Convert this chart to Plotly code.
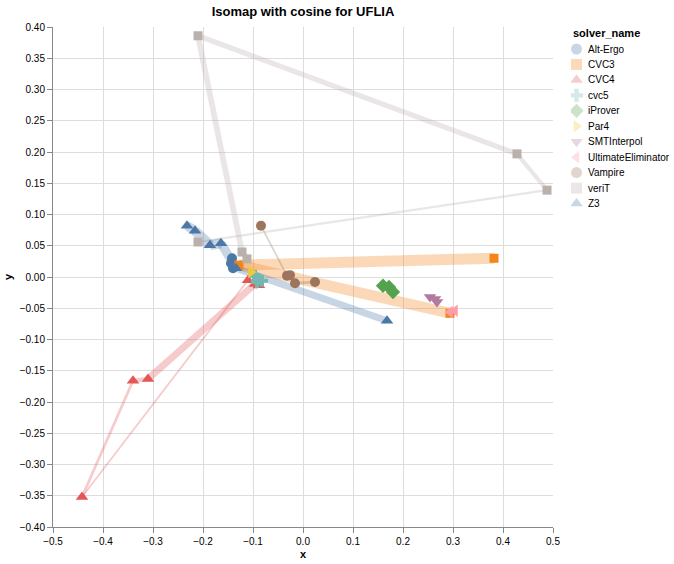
import plotly.graph_objects as go

# solver order and colours (vega tableau10, wraps for Z3)
SOLVERS = ['Alt-Ergo', 'CVC3', 'CVC4', 'cvc5', 'iProver', 'Par4', 'SMTInterpol',
           'UltimateEliminator', 'Vampire', 'veriT', 'Z3']

ALT_ERGO_X = [-0.142, -0.144, -0.140]
ALT_ERGO_Y = [0.030, 0.022, 0.014]
ALT_ERGO_W = [3, 3, 3]

CVC3_X = [0.294, -0.128, 0.382]
CVC3_Y = [-0.058, 0.019, 0.030]
CVC3_W = [10, 12, 10]

CVC4_X = [-0.110, -0.442, -0.340, -0.310, -0.096, -0.088]
CVC4_Y = [-0.005, -0.352, -0.166, -0.163, -0.011, -0.013]
CVC4_W = [1.5, 2, 3.5, 5, 9, 9]

CVC5_X = [-0.096, -0.090, -0.082, -0.092]
CVC5_Y = [0.002, -0.003, -0.006, -0.008]
CVC5_W = [3, 3, 3, 3]

IPROVER_X = [0.160, 0.172, 0.180]
IPROVER_Y = [-0.014, -0.016, -0.024]
IPROVER_W = [3, 3, 3]

PAR4_X = [-0.104]
PAR4_Y = [0.008]
PAR4_W = [3]

SMTINTERPOL_X = [0.254, 0.264, 0.268]
SMTINTERPOL_Y = [-0.032, -0.035, -0.040]
SMTINTERPOL_W = [5, 5, 5]

ULTIMATE_X = [0.294, 0.304]
ULTIMATE_Y = [-0.056, -0.054]
ULTIMATE_W = [3, 3]

VAMPIRE_X = [-0.084, -0.032, -0.026, -0.016, 0.024]
VAMPIRE_Y = [0.082, 0.002, 0.003, -0.010, -0.008]
VAMPIRE_W = [1.5, 2, 3, 3, 3]

VERIT_X = [-0.210, 0.488, 0.428, -0.210, -0.122, -0.112]
VERIT_Y = [0.056, 0.139, 0.197, 0.386, 0.040, 0.029]
VERIT_W = [1.5, 3, 5, 5.5, 6, 6]

Z3_X = [-0.232, -0.216, -0.186, -0.164, -0.134, 0.168]
Z3_Y = [0.082, 0.074, 0.051, 0.054, 0.014, -0.070]
Z3_W = [9, 10, 10, 10, 8, 6]

DATA = {
    'Alt-Ergo': (ALT_ERGO_X, ALT_ERGO_Y, ALT_ERGO_W),
    'CVC3': (CVC3_X, CVC3_Y, CVC3_W),
    'CVC4': (CVC4_X, CVC4_Y, CVC4_W),
    'cvc5': (CVC5_X, CVC5_Y, CVC5_W),
    'iProver': (IPROVER_X, IPROVER_Y, IPROVER_W),
    'Par4': (PAR4_X, PAR4_Y, PAR4_W),
    'SMTInterpol': (SMTINTERPOL_X, SMTINTERPOL_Y, SMTINTERPOL_W),
    'UltimateEliminator': (ULTIMATE_X, ULTIMATE_Y, ULTIMATE_W),
    'Vampire': (VAMPIRE_X, VAMPIRE_Y, VAMPIRE_W),
    'veriT': (VERIT_X, VERIT_Y, VERIT_W),
    'Z3': (Z3_X, Z3_Y, Z3_W),
}

COLORS = ['#4c78a8', '#f58518', '#e45756', '#72b7b2', '#54a24b', '#eeca3b',
          '#b279a2', '#ff9da6', '#9d755d', '#bab0ac', '#4c78a8']
SYMBOLS = ['circle', 'square', 'triangle-up', 'cross', 'diamond', 'triangle-right',
           'triangle-down', 'triangle-left', 'circle', 'square', 'triangle-up']
SIZES = {'circle': 10, 'square': 9, 'triangle-up': 11, 'cross': 10, 'diamond': 11,
         'triangle-right': 11, 'triangle-down': 11, 'triangle-left': 11}

FONT = 'Liberation Sans, Arial, sans-serif'

W, H = 674, 564
ML, MT = 53, 27
PLOT_W, PLOT_H = 500, 500
MB = H - MT - PLOT_H
AREA_W = W - ML  # right margin is 0, legend lives in its own hidden axes

fig = go.Figure()

# trails: one trace per segment so the width can change along the path
for name, color in zip(SOLVERS, COLORS):
    xs, ys, ws = DATA[name]
    for i in range(len(xs) - 1):
        fig.add_trace(go.Scatter(
            x=xs[i:i + 2], y=ys[i:i + 2], mode='lines',
            line=dict(color=color, width=(ws[i] + ws[i + 1]) / 2),
            opacity=0.3, showlegend=False, hoverinfo='skip'))

# points
for name, color, sym in zip(SOLVERS, COLORS, SYMBOLS):
    xs, ys, _ = DATA[name]
    fig.add_trace(go.Scatter(
        x=xs, y=ys, mode='markers', name=name, showlegend=False,
        marker=dict(color=color, symbol=sym, size=SIZES[sym], line=dict(width=0))))

# legend drawn in a hidden pixel-unit axes to the right of the plot
LEG_X0 = 571
LEG_ROW0 = 49
LEG_STEP = 15.45
rows = [LEG_ROW0 + LEG_STEP * i for i in range(len(SOLVERS))]
for name, color, sym, yy in zip(SOLVERS, COLORS, SYMBOLS, rows):
    fig.add_trace(go.Scatter(
        x=[LEG_X0 + 5.5], y=[yy], mode='markers', xaxis='x2', yaxis='y2',
        showlegend=False, hoverinfo='skip',
        marker=dict(color=color, symbol=sym, size=11, opacity=0.3, line=dict(width=0))))
    fig.add_annotation(x=LEG_X0 + 15, y=yy, xref='x2', yref='y2', text=name,
                       showarrow=False, xanchor='left', yanchor='middle',
                       font=dict(size=10, family=FONT, color='#000000'))
fig.add_annotation(x=LEG_X0, y=32.5, xref='x2', yref='y2', text='<b>solver_name</b>',
                   showarrow=False, xanchor='left', yanchor='middle',
                   font=dict(size=11, family=FONT, color='#000000'))

axis_common = dict(showgrid=True, gridcolor='#dddddd', gridwidth=1, zeroline=False,
                   showline=True, linecolor='#888888', linewidth=1,
                   ticks='outside', ticklen=5, tickcolor='#888888', automargin=False,
                   tickfont=dict(size=10, color='#000000', family=FONT))

fig.update_layout(
    width=W, height=H,
    margin=dict(l=ML, r=0, t=MT, b=MB, autoexpand=False),
    plot_bgcolor='white', paper_bgcolor='white',
    font=dict(family=FONT, color='#000000'),
    showlegend=False,
    title=dict(text='<b>Isomap with cosine for UFLIA</b>', x=(ML + PLOT_W / 2) / W,
               xref='container', xanchor='center',
               y=1 - 11 / H, yref='container', yanchor='middle',
               font=dict(size=13, family=FONT)),
    xaxis=dict(domain=[0, PLOT_W / AREA_W], range=[-0.5, 0.5], dtick=0.1, tick0=-0.5,
               tickformat='.1f',
               title=dict(text='<b>x</b>', font=dict(size=11), standoff=4),
               **axis_common),
    yaxis=dict(range=[-0.4, 0.4], dtick=0.05, tick0=-0.4, tickformat='.2f',
               title=dict(text='<b>y</b>', font=dict(size=11), standoff=4),
               **axis_common),
    xaxis2=dict(domain=[(LEG_X0 - ML) / AREA_W, 1], range=[LEG_X0, W], visible=False,
                anchor='y2', fixedrange=True),
    yaxis2=dict(domain=[0, 1], range=[H - MB, MT], visible=False, anchor='x2',
                fixedrange=True),
)

# drop the browser's default 8px body margin so the figure sits at the window corner
fig.write_html('out.html', config={'displayModeBar': False},
               post_script="document.body.style.margin = '0';")
